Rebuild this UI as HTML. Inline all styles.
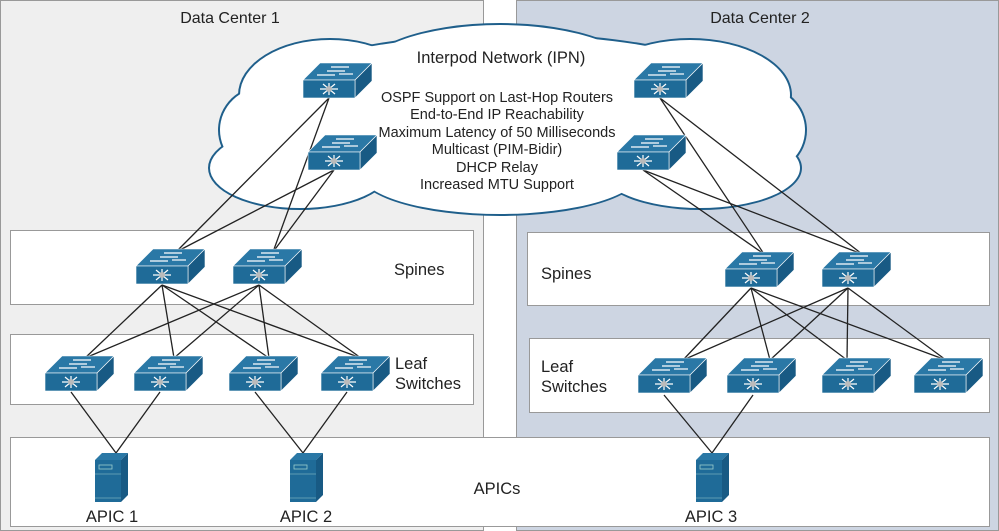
<!DOCTYPE html>
<html><head><meta charset="utf-8"><style>
body{margin:0;width:999px;height:531px;overflow:hidden;background:#fff}
svg{display:block}
text{font-family:"Liberation Sans",sans-serif;fill:#222}
</style></head><body>
<svg width="999" height="531" viewBox="0 0 999 531" xmlns="http://www.w3.org/2000/svg">
<defs>
<g id="sw">
  <polygon points="0,0 52,0 69,-17 17,-17" fill="#2a78a6" stroke="#fff" stroke-width="0.6"/>
  <polygon points="52,0 69,-17 69,1 52,18" fill="#185a84" stroke="#fff" stroke-width="0.6"/>
  <rect x="0" y="0" width="52" height="18" fill="#1f6b98" stroke="#fff" stroke-width="0.6"/>
  <g stroke="#fff" stroke-width="1.2" fill="none">
    <line x1="28" y1="-13" x2="46" y2="-13"/><line x1="24" y1="-9" x2="42" y2="-9"/>
    <line x1="14" y1="-5" x2="32" y2="-5"/><line x1="36" y1="-6" x2="50" y2="-6"/>
    <line x1="17" y1="9" x2="35" y2="9"/><line x1="26" y1="3" x2="26" y2="15"/>
    <line x1="20" y1="4" x2="32" y2="14"/><line x1="32" y1="4" x2="20" y2="14"/>
  </g>
  <circle cx="26" cy="9" r="3" fill="#bbb"/>
</g>
<g id="srv">
  <polygon points="0,7 7,0 33,0 26,7" fill="#2a78a6"/>
  <polygon points="26,7 33,0 33,42 26,49" fill="#185a84"/>
  <rect x="0" y="7" width="26" height="42" fill="#1f6b98"/>
  <rect x="4" y="12" width="13" height="4" fill="none" stroke="#9cc" stroke-width="0.8"/>
  <line x1="0" y1="21" x2="26" y2="21" stroke="#9cc" stroke-width="0.6"/>
  <line x1="0" y1="45" x2="26" y2="45" stroke="#9cc" stroke-width="0.6"/>
</g>
</defs>
<rect x="0.5" y="0.5" width="483" height="530" fill="#efefef" stroke="#999"/>
<rect x="516.5" y="0.5" width="482" height="530" fill="#cdd5e2" stroke="#999"/>
<text x="230" y="23" font-size="16" text-anchor="middle">Data Center 1</text>
<text x="760" y="23" font-size="16" text-anchor="middle">Data Center 2</text>
<rect x="10.5" y="230.5" width="463" height="74" fill="#fff" stroke="#999"/>
<rect x="10.5" y="334.5" width="463" height="70" fill="#fff" stroke="#999"/>
<rect x="527.5" y="232.5" width="462" height="73" fill="#fff" stroke="#999"/>
<rect x="529.5" y="338.5" width="460" height="74" fill="#fff" stroke="#999"/>
<rect x="10.5" y="437.5" width="979" height="89" fill="#fff" stroke="#999"/>
<!-- cloud -->
<g fill="#1f5f8b">
<ellipse cx="510" cy="115" rx="272" ry="82"/><ellipse cx="330" cy="95" rx="92" ry="57"/>
<ellipse cx="500" cy="77" rx="142" ry="54"/><ellipse cx="690" cy="95" rx="102" ry="57"/>
<ellipse cx="300" cy="168" rx="92" ry="42"/><ellipse cx="500" cy="172" rx="142" ry="44"/>
<ellipse cx="700" cy="168" rx="102" ry="42"/><ellipse cx="265" cy="130" rx="47" ry="45"/>
<ellipse cx="760" cy="130" rx="47" ry="45"/>
</g>
<g fill="#fff">
<ellipse cx="510" cy="115" rx="270" ry="80"/><ellipse cx="330" cy="95" rx="90" ry="55"/>
<ellipse cx="500" cy="77" rx="140" ry="52"/><ellipse cx="690" cy="95" rx="100" ry="55"/>
<ellipse cx="300" cy="168" rx="90" ry="40"/><ellipse cx="500" cy="172" rx="140" ry="42"/>
<ellipse cx="700" cy="168" rx="100" ry="40"/><ellipse cx="265" cy="130" rx="45" ry="43"/>
<ellipse cx="760" cy="130" rx="45" ry="43"/>
</g>
<text x="501" y="63" font-size="16.5" text-anchor="middle">Interpod Network (IPN)</text>
<g font-size="14.5" text-anchor="middle">
<text x="497" y="102">OSPF Support on Last-Hop Routers</text>
<text x="497" y="119">End-to-End IP Reachability</text>
<text x="497" y="137">Maximum Latency of 50 Milliseconds</text>
<text x="497" y="154">Multicast (PIM-Bidir)</text>
<text x="497" y="172">DHCP Relay</text>
<text x="497" y="189">Increased MTU Support</text>
</g>
<g font-size="16.5">
<text x="394" y="275">Spines</text>
<text x="395" y="369">Leaf</text><text x="395" y="389">Switches</text>
<text x="541" y="279">Spines</text>
<text x="541" y="372">Leaf</text><text x="541" y="392">Switches</text>
<text x="497" y="494" text-anchor="middle">APICs</text>
<text x="112" y="522" text-anchor="middle">APIC 1</text>
<text x="306" y="522" text-anchor="middle">APIC 2</text>
<text x="711" y="522" text-anchor="middle">APIC 3</text>
</g>
<!-- lines -->
<g stroke="#222" stroke-width="1.3">
<line x1="329" y1="98" x2="176" y2="252"/><line x1="329" y1="98" x2="273" y2="252"/>
<line x1="334" y1="170" x2="176" y2="252"/><line x1="334" y1="170" x2="273" y2="252"/>
<line x1="660" y1="98" x2="764" y2="254"/><line x1="660" y1="98" x2="862" y2="254"/>
<line x1="643" y1="170" x2="764" y2="254"/><line x1="643" y1="170" x2="862" y2="254"/>
<line x1="162" y1="285" x2="85" y2="358"/><line x1="162" y1="285" x2="174" y2="358"/>
<line x1="162" y1="285" x2="269" y2="358"/><line x1="162" y1="285" x2="361" y2="358"/>
<line x1="259" y1="285" x2="85" y2="358"/><line x1="259" y1="285" x2="174" y2="358"/>
<line x1="259" y1="285" x2="269" y2="358"/><line x1="259" y1="285" x2="361" y2="358"/>
<line x1="751" y1="288" x2="683" y2="360"/><line x1="751" y1="288" x2="770" y2="360"/>
<line x1="751" y1="288" x2="847" y2="360"/><line x1="751" y1="288" x2="946" y2="360"/>
<line x1="848" y1="288" x2="683" y2="360"/><line x1="848" y1="288" x2="770" y2="360"/>
<line x1="848" y1="288" x2="847" y2="360"/><line x1="848" y1="288" x2="946" y2="360"/>
<line x1="71" y1="392" x2="116" y2="453"/><line x1="160" y1="392" x2="116" y2="453"/>
<line x1="255" y1="392" x2="303" y2="453"/><line x1="347" y1="392" x2="303" y2="453"/>
<line x1="664" y1="395" x2="712" y2="453"/><line x1="753" y1="395" x2="712" y2="453"/>
</g>
<use href="#sw" x="303" y="80"/><use href="#sw" x="308" y="152"/>
<use href="#sw" x="634" y="80"/><use href="#sw" x="617" y="152"/>
<use href="#sw" x="136" y="266"/><use href="#sw" x="233" y="266"/>
<use href="#sw" x="45" y="373"/><use href="#sw" x="134" y="373"/>
<use href="#sw" x="229" y="373"/><use href="#sw" x="321" y="373"/>
<use href="#sw" x="725" y="269"/><use href="#sw" x="822" y="269"/>
<use href="#sw" x="638" y="375"/><use href="#sw" x="727" y="375"/>
<use href="#sw" x="822" y="375"/><use href="#sw" x="914" y="375"/>
<use href="#srv" x="95" y="453"/><use href="#srv" x="290" y="453"/><use href="#srv" x="696" y="453"/>
</svg>
</body></html>
